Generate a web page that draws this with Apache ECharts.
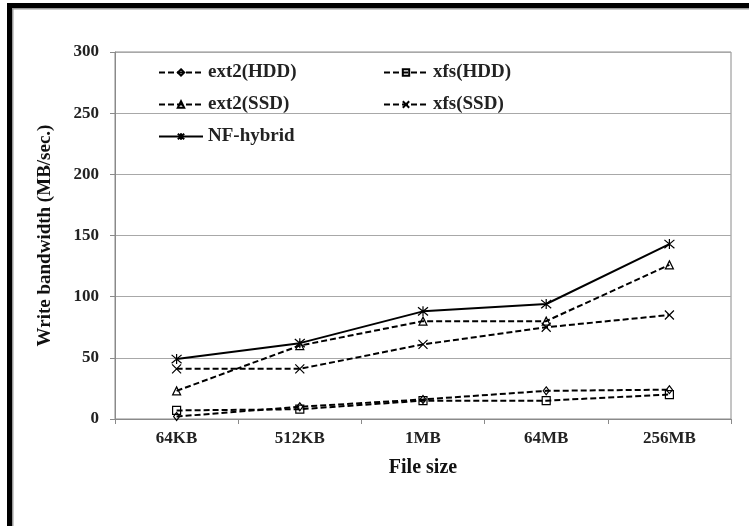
<!DOCTYPE html>
<html>
<head>
<meta charset="utf-8">
<script src="https://cdn.jsdelivr.net/npm/echarts@6/dist/echarts.min.js"></script>
<style>
html,body{margin:0;padding:0;background:#fff;}
#c{width:749px;height:526px;}
</style>
</head>
<body>
<div id="c"></div>
<script>
const categories = ['64KB', '512KB', '1MB', '64MB', '256MB'];
const ext2HDD = [2, 10, 16, 23, 24];
const xfsHDD = [7, 8, 15, 15, 20];
const ext2SSD = [23, 60, 80, 80, 126];
const xfsSSD = [41, 41, 61, 75, 85];
const nfHybrid = [49, 62, 88, 94, 143];
const yTicks = [0, 50, 100, 150, 200, 250, 300];

const FONT = '"Liberation Serif", "Times New Roman", serif';
const crossPath = 'path://M0,0L10,10M10,0L0,10';
const starPath = 'path://M0,0L10,10M10,0L0,10M5,-1L5,11';

function mk(name, data, symbol, size, solid) {
  return {
    name: name,
    type: 'line',
    data: data,
    symbol: symbol,
    symbolSize: size,
    showAllSymbol: true,
    lineStyle: {color: '#000', width: 2, type: solid ? 'solid' : [6, 3]},
    itemStyle: {color: 'rgba(255,255,255,0)', borderColor: '#000', borderWidth: 1.2},
    emphasis: {disabled: true},
    animation: false
  };
}

const chart = echarts.init(document.getElementById('c'), null, {renderer: 'canvas'});
const legendText = {fontFamily: FONT, fontSize: 19, fontWeight: 'bold', color: '#222'};
function lg(name, left, top) {
  return {data: [name], left: left, top: top, itemWidth: 44, itemHeight: 8, itemGap: 6,
    textStyle: legendText, selectedMode: false, padding: 0};
}
chart.setOption({
  backgroundColor: '#fff',
  animation: false,
  grid: {left: 115, right: 18, top: 52, bottom: 107, show: true, borderColor: '#8a8a8a', borderWidth: 1},
  legend: [
    lg('ext2(HDD)', 158, 63),
    lg('xfs(HDD)', 383, 63),
    lg('ext2(SSD)', 158, 95),
    lg('xfs(SSD)', 383, 95),
    lg('NF-hybrid', 158, 127)
  ],
  xAxis: {
    type: 'category',
    data: categories,
    boundaryGap: true,
    name: 'File size',
    nameLocation: 'middle',
    nameGap: 39,
    nameTextStyle: {fontFamily: FONT, fontSize: 20, fontWeight: 'bold', color: '#111'},
    axisLine: {lineStyle: {color: '#8a8a8a', width: 1}},
    axisTick: {show: true, length: 5, lineStyle: {color: '#8a8a8a'}},
    axisLabel: {fontFamily: FONT, fontSize: 17, fontWeight: 'bold', color: '#222', margin: 11}
  },
  yAxis: {
    type: 'value',
    min: yTicks[0],
    max: yTicks[yTicks.length - 1],
    interval: 50,
    name: 'Write bandwidth (MB/sec.)',
    nameLocation: 'middle',
    nameGap: 60,
    nameRotate: 90,
    nameTextStyle: {fontFamily: FONT, fontSize: 19, fontWeight: 'bold', color: '#111'},
    axisLine: {show: true, lineStyle: {color: '#8a8a8a', width: 1}},
    axisTick: {show: true, length: 5, lineStyle: {color: '#8a8a8a'}},
    splitLine: {show: true, lineStyle: {color: '#a8a8a8', width: 1}},
    axisLabel: {fontFamily: FONT, fontSize: 17, fontWeight: 'bold', color: '#222', margin: 16}
  },
  graphic: [
    {type: 'rect', shape: {x: 7, y: 3, width: 5, height: 523}, style: {fill: '#000'}, silent: true},
    {type: 'rect', shape: {x: 7, y: 3, width: 742, height: 5}, style: {fill: '#000'}, silent: true},
    {type: 'rect', shape: {x: 12, y: 8, width: 1.5, height: 518}, style: {fill: '#999'}, silent: true},
    {type: 'rect', shape: {x: 12, y: 8, width: 737, height: 1.5}, style: {fill: '#999'}, silent: true}
  ],
  series: [
    mk('ext2(HDD)', ext2HDD, 'diamond', [6, 8], false),
    mk('xfs(HDD)', xfsHDD, 'rect', 8, false),
    mk('ext2(SSD)', ext2SSD, 'triangle', 8, false),
    mk('xfs(SSD)', xfsSSD, crossPath, 9, false),
    mk('NF-hybrid', nfHybrid, starPath, 10, true)
  ]
});
</script>
</body>
</html>
